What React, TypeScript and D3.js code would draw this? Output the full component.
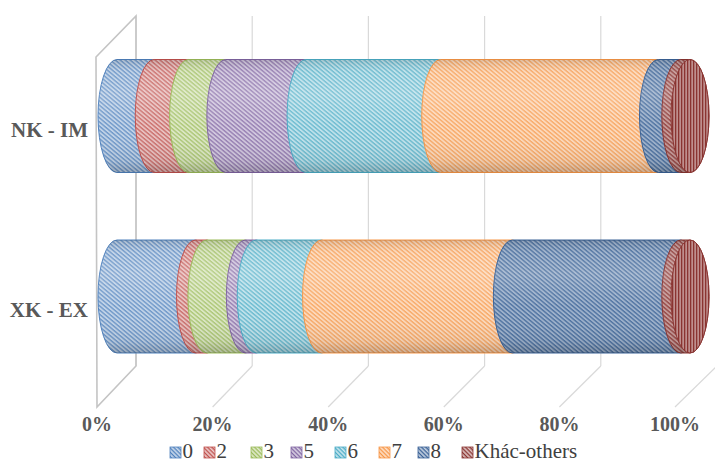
import React from "react";
import * as d3 from "d3";

// Shares (%) of each code group, per trade flow
const categories = ["NK - IM", "XK - EX"];
const seriesNames = ["0", "2", "3", "5", "6", "7", "8", "Khác-others"];
const nkImShares = [6.5, 6.0, 6.5, 14.0, 23.5, 38.0, 3.9, 1.6];
const xkExShares = [13.7, 2.0, 6.7, 1.9, 11.4, 33.3, 29.4, 1.6];
const tickValues = [0, 20, 40, 60, 80, 100];
const seriesColors = ["#4f81bd", "#c0504d", "#9bbb59", "#8064a2", "#4bacc6", "#f79646", "#3a6297", "#8a3431"];

const W = 715;
const H = 463;
const SERIF = "'Times New Roman', 'Liberation Serif', serif";

// Cylinder geometry (page coords)
const xCyl = d3.scaleLinear().domain([0, 100]).range([117, 690]);
const yCyl = d3.scalePoint<string>().domain(categories).range([116, 296.5]);
const RY = 56.5;
const RX = 19;

// 3D box: front floor edge and back wall
const xFront = d3.scaleLinear().domain([0, 100]).range([97, 675]);
const xBack = d3.scaleLinear().domain([0, 100]).range([136, 717]);
const FLOOR_FRONT = 407;
const FLOOR_BACK = 366;
const TOP_BACK = 16;
const TOP_FRONT = 57;

const rows = [nkImShares, xkExShares];

function mix(c: string, t: number) {
  return d3.interpolateRgb(c, "#ffffff")(t);
}

function segPath(x0: number, x1: number, cy: number) {
  const top = cy - RY;
  const bot = cy + RY;
  return `M${x0},${top}L${x1},${top}A${RX},${RY} 0 0 1 ${x1},${bot}L${x0},${bot}A${RX},${RY} 0 0 1 ${x0},${top}Z`;
}

export default function App() {
  const stacks = rows.map((vals) => {
    const cum = d3.cumsum(vals);
    return vals.map((v, i) => ({ i, v, start: cum[i] - v, end: cum[i] }));
  });

  return (
    <svg width={W} height={H} style={{ display: "block", position: "absolute", left: 0, top: 0 }}>
      <defs>
        {seriesColors.map((c, i) => (
          <pattern
            key={i}
            id={`hatch-${i}`}
            patternUnits="userSpaceOnUse"
            width={3.2}
            height={3.2}
            patternTransform="rotate(40)"
          >
            <rect width={3.2} height={3.2} fill={mix(c, i >= 6 ? 0.5 : 0.64)} />
            <rect width={3.2} height={1.4} fill={mix(c, i >= 6 ? 0.1 : 0.18)} />
          </pattern>
        ))}
        {seriesColors.map((c, i) => (
          <pattern key={`v${i}`} id={`vert-${i}`} patternUnits="userSpaceOnUse" width={3} height={3}>
            <rect width={3} height={3} fill={mix(c, 0.45)} />
            <rect width={1.3} height={3} fill={mix(c, 0.0)} />
          </pattern>
        ))}
        {seriesColors.map((c, i) => (
          <pattern key={`l${i}`} id={`leg-${i}`} patternUnits="userSpaceOnUse" width={3} height={3} patternTransform="rotate(45)">
            <rect width={3} height={3} fill={mix(c, 0.7)} />
            <rect width={3} height={1.3} fill={c} />
          </pattern>
        ))}
        <linearGradient id="shade" x1="0" y1="0" x2="0" y2="1">
          <stop offset="0" stopColor="#000" stopOpacity={0.12} />
          <stop offset="0.12" stopColor="#fff" stopOpacity={0.05} />
          <stop offset="0.3" stopColor="#fff" stopOpacity={0.15} />
          <stop offset="0.6" stopColor="#fff" stopOpacity={0} />
          <stop offset="0.9" stopColor="#000" stopOpacity={0.06} />
          <stop offset="1" stopColor="#000" stopOpacity={0.2} />
        </linearGradient>
      </defs>

      <rect width={W} height={H} fill="#fff" />

      {/* back wall gridlines */}
      {tickValues.map((t) => (
        <line key={`g${t}`} x1={xBack(t)} x2={xBack(t)} y1={TOP_BACK} y2={FLOOR_BACK} stroke="#d9d9d9" strokeWidth={1.2} />
      ))}
      {/* floor gridlines */}
      {tickValues.slice(1).map((t) => (
        <line key={`f${t}`} x1={xFront(t)} y1={FLOOR_FRONT} x2={xBack(t)} y2={FLOOR_BACK} stroke="#d9d9d9" strokeWidth={1.2} />
      ))}
      {/* side wall */}
      <polygon
        points={`${xFront(0) - 1},${TOP_FRONT} ${xBack(0)},${TOP_BACK} ${xBack(0)},${FLOOR_BACK} ${xFront(0)},${FLOOR_FRONT}`}
        fill="none"
        stroke="#c4c4c4"
        strokeWidth={1.6}
      />

      {/* cylinders */}
      {categories.map((cat, r) => {
        const cy = yCyl(cat)!;
        const segs = stacks[r];
        const last = segs[segs.length - 1];
        return (
          <g key={cat}>
            {segs.map((s) => {
              const d = segPath(xCyl(s.start), xCyl(s.end), cy);
              return (
                <g key={s.i}>
                  <path d={d} fill={`url(#hatch-${s.i})`} stroke={seriesColors[s.i]} strokeWidth={1} />
                  <path d={d} fill="url(#shade)" />
                </g>
              );
            })}
            <ellipse
              cx={xCyl(last.end)}
              cy={cy}
              rx={RX}
              ry={RY}
              fill={`url(#vert-${last.i})`}
              stroke={seriesColors[last.i]}
              strokeWidth={1}
            />
          </g>
        );
      })}

      {/* category labels */}
      {categories.map((cat) => (
        <text
          key={`c${cat}`}
          x={88}
          y={yCyl(cat)! + 16}
          textAnchor="end"
          dominantBaseline="middle"
          style={{ fontFamily: SERIF }}
          fontWeight="bold"
          fontSize={21}
          fill="#595959"
        >
          {cat}
        </text>
      ))}

      {/* value axis labels */}
      {tickValues.map((t) => (
        <text
          key={`t${t}`}
          x={xFront(t)}
          y={426}
          textAnchor="middle"
          dominantBaseline="middle"
          style={{ fontFamily: SERIF }}
          fontWeight="bold"
          fontSize={20}
          fill="#595959"
        >
          {`${t}%`}
        </text>
      ))}

      {/* legend */}
      {(() => {
        const xs = [170, 204, 251, 291, 335, 379, 418, 462];
        return seriesNames.map((n, i) => (
          <g key={`lg${i}`} transform={`translate(${xs[i]},447)`}>
            <rect width={11} height={11} fill={`url(#leg-${i})`} stroke={seriesColors[i]} strokeWidth={0.8} />
            <text
              x={12.5}
              y={6.5}
              dominantBaseline="middle"
              style={{ fontFamily: SERIF }}
              fontSize={21}
              fill="#404040"
            >
              {n}
            </text>
          </g>
        ));
      })()}
    </svg>
  );
}
